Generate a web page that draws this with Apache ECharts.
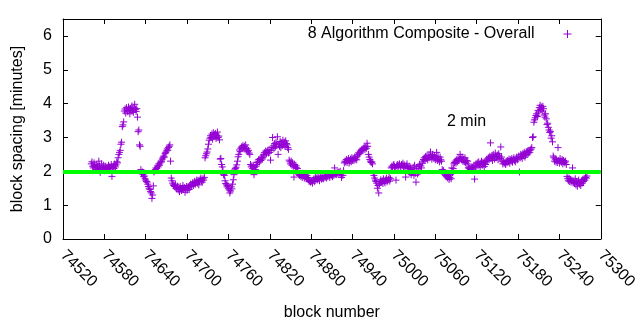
<!DOCTYPE html>
<html>
<head>
<meta charset="utf-8">
<script src="https://cdn.jsdelivr.net/npm/echarts@6/dist/echarts.min.js"></script>
<style>html,body{margin:0;padding:0;background:#fff}#c{width:640px;height:330px}</style>
</head>
<body>
<div id="c"></div>
<script>
// first block of the series; one value per consecutive block
const firstBlock = 74561;
// block spacing [minutes]
const spacing1 = [
2.22,2.28,2.15,2.10,2.25,2.18,2.12,2.05,2.20,2.14,2.08,2.30,2.16,1.97,2.10,2.22,2.06,2.12,2.18,2.02,
2.10,2.15,2.06,2.12,2.03,2.18,2.09,2.14,2.07,2.20,1.85,2.11,2.16,2.08,2.22,2.13,2.19,2.28,2.25,2.40,
2.50,2.56,2.62,2.80,2.86,3.32,3.37,3.46,3.78,3.84,3.72,3.88,3.80,3.76,3.90,3.82,3.70,3.86,3.79,3.93,
3.81,3.74,3.88,3.98,3.83,3.77,3.85,3.60,3.17,3.22,2.78,2.74,2.05,1.94,1.98,1.90,1.84,1.86,1.78,1.74,
1.70,1.68,1.62,1.55,1.50,1.46,1.40,1.36,1.20,1.30,1.57,1.98,2.02,2.05,2.10,2.08,2.16,2.13,2.22,2.18,
2.25,2.30,2.28,2.36,2.40,2.45,2.42,2.52,2.56,2.60,2.66,2.62,2.70,2.74,2.78,2.30,1.80,1.72,1.65,1.60
];
const spacing2 = [
1.58,1.55,1.62,1.50,1.48,1.56,1.45,1.52,1.40,1.55,1.47,1.43,1.50,1.58,1.46,1.52,1.38,1.49,1.55,1.44,
1.50,1.54,1.46,1.58,1.62,1.55,1.60,1.66,1.58,1.63,1.70,1.62,1.68,1.74,1.65,1.72,1.60,1.70,1.76,1.80,
1.72,1.68,1.78,1.74,1.82,2.40,2.46,2.52,2.57,2.66,2.80,2.92,2.98,3.05,3.00,3.10,2.95,3.14,3.02,3.08,
3.12,2.97,3.06,3.16,3.00,3.04,2.93,2.36,2.38,2.20,2.13,2.02,1.90,1.88,1.72,1.64,1.60,1.54,1.58,1.50,
1.45,1.36,1.42,1.54,1.48,1.62,1.75,1.90,2.04,2.08,2.12,2.19,2.30,2.43,2.50,2.63,2.58,2.68,2.72,2.70,
2.76,2.70,2.74,2.66,2.78,2.63,2.68,2.58,2.62,2.54,2.50,2.20,2.13,2.16,2.08,2.18,1.90,2.12,2.05,2.15
];
const spacing3 = [
2.20,2.26,2.30,2.35,2.28,2.38,2.32,2.40,2.36,2.42,2.50,2.55,2.48,2.60,2.52,2.58,2.62,2.54,2.64,2.56,
2.33,2.62,2.70,3.00,2.75,2.68,2.82,2.72,2.86,2.78,3.02,2.50,2.80,2.74,2.88,2.70,2.84,2.76,2.92,2.80,
2.86,2.74,2.90,2.82,2.78,2.70,2.65,2.33,2.28,2.22,2.30,2.18,2.25,2.15,1.83,2.20,2.12,2.16,2.10,2.08,
1.95,1.90,1.88,1.92,1.85,1.90,1.82,1.94,1.87,1.80,1.91,1.84,1.78,1.88,1.82,1.75,1.70,1.73,1.68,1.72,
1.70,1.65,1.74,1.78,1.70,1.82,1.76,1.80,1.75,1.84,1.78,1.72,1.82,1.86,1.77,1.80,1.84,1.78,1.88,1.82,
1.85,1.80,1.88,1.84,1.90,1.86,1.82,1.92,1.87,1.90,1.84,1.93,1.88,2.10,1.92,1.95,1.90,1.96,1.93,1.98
];
const spacing4 = [
1.95,2.00,1.92,1.82,1.94,1.88,2.02,2.25,2.30,2.28,2.35,2.26,2.32,2.38,2.24,2.30,2.36,2.28,2.40,2.33,
2.38,2.32,2.42,2.36,2.40,2.34,2.45,2.50,2.55,2.52,2.60,2.57,2.63,2.66,2.62,2.68,2.70,2.65,2.72,2.68,
2.83,2.74,2.50,2.42,2.35,2.30,2.26,2.28,2.22,1.94,1.88,1.80,1.74,1.70,1.65,1.50,1.58,1.36,1.62,1.70,
1.75,1.68,1.72,1.64,1.78,1.70,1.66,1.74,1.80,1.69,1.73,1.76,1.82,1.71,1.78,2.10,2.15,2.12,2.18,2.20,
2.14,2.10,1.74,2.16,2.20,2.12,2.18,2.22,2.15,2.12,2.20,2.17,2.24,2.14,2.19,2.10,1.83,2.16,2.22,2.12,
2.08,2.15,1.95,2.10,1.90,2.05,1.98,2.12,1.88,2.18,1.94,1.68,2.08,1.92,2.14,1.96,2.20,2.02,2.16,2.10
];
const spacing5 = [
2.24,2.30,2.35,2.40,2.32,2.44,2.38,2.46,2.34,2.42,2.48,2.40,2.57,2.44,2.36,2.50,2.42,2.38,2.46,2.34,
2.40,2.56,2.32,2.44,2.36,2.28,2.42,2.34,2.30,2.05,1.98,2.02,1.92,1.96,1.88,1.84,1.94,1.80,1.86,1.76,
1.82,1.90,1.78,2.10,1.96,2.08,2.22,2.26,2.30,2.24,2.34,2.28,2.38,2.32,2.36,2.50,2.40,2.34,2.42,2.30,
2.36,2.28,2.40,2.26,2.32,2.22,2.30,2.12,2.08,2.10,2.05,2.13,2.09,2.11,2.06,2.18,1.77,2.14,2.22,2.18,
2.25,2.16,2.28,2.20,2.12,2.24,2.30,2.18,2.26,2.22,2.14,2.28,2.20,2.32,2.36,2.30,2.40,2.34,2.44,2.84,
2.38,2.46,2.32,2.50,2.42,2.36,2.54,2.44,2.40,2.48,2.34,2.52,2.45,2.38,2.72,2.42,2.30,2.22,2.28,2.24
];
const spacing6 = [
2.26,2.20,2.30,2.25,2.32,2.28,2.36,2.24,2.34,2.30,2.38,2.27,2.35,2.40,2.32,2.28,2.36,2.42,2.34,2.38,
2.45,1.98,2.40,2.50,2.44,2.38,2.52,2.46,2.56,2.42,2.48,2.58,2.50,2.60,2.54,2.62,2.56,2.63,2.66,2.70,
3.00,3.02,3.45,3.52,3.58,3.65,3.70,3.62,3.80,3.75,3.88,3.95,3.82,3.90,3.78,3.92,3.85,3.66,3.60,3.70,
3.55,3.38,3.42,3.30,3.22,3.15,3.18,2.98,3.05,2.87,2.45,2.40,2.30,2.36,2.28,2.34,2.26,2.70,2.32,2.24,
2.38,2.30,2.27,2.35,2.22,2.32,2.28,2.25,2.30,2.20,1.85,1.78,1.72,1.80,1.70,1.76,1.68,1.74,2.10,1.66,
1.72,1.64,1.78,1.60,1.70,1.56,1.68,1.74,1.62,1.66,1.58,1.72,1.65,1.76,1.70,1.78,1.74,1.82,1.80,1.86
];
const seriesName = '8 Algorithm Composite - Overall';
const referenceValue = 2;           // the "2 min" target line
const referenceLabel = '2 min';
const referenceLabelAt = [75077, 3.46];
const xMin = 74520, xMax = 75300, xStep = 60;
const yMin = 0, yMax = 6.5, yStep = 1;

const spacing = [].concat(spacing1, spacing2, spacing3, spacing4, spacing5, spacing6);
const points = spacing.map((v, i) => [firstBlock + i, v]);

const FONT = 'Liberation Sans';
const purple = '#9400d3';
const crossPath = 'path://M0,-1L0,1M-1,0L1,0';
const axisCommon = {
  axisLine: {show: true, onZero: false, lineStyle: {color: '#000', width: 1}},
  axisTick: {show: true, inside: true, length: 5, lineStyle: {color: '#000', width: 1}},
  splitLine: {show: false}
};
const chart = echarts.init(document.getElementById('c'), null, {renderer: 'canvas'});
chart.setOption({
  animation: false,
  backgroundColor: '#fff',
  textStyle: {fontFamily: FONT},
  grid: {left: 63, right: 28, top: 19, bottom: 91, containLabel: false},
  legend: {
    show: true, right: 63, top: 21, align: 'right',
    itemWidth: 8, itemHeight: 8,
    data: [{name: seriesName, icon: crossPath,
            itemStyle: {color: 'rgba(0,0,0,0)', borderColor: purple, borderWidth: 1}}],
    textStyle: {fontFamily: FONT, fontSize: 16, color: '#000', padding: [0, 24, 0, 0]}
  },
  xAxis: [
    Object.assign({}, axisCommon, {
      type: 'value', position: 'bottom', min: xMin, max: xMax, interval: xStep,
      name: 'block number', nameLocation: 'middle', nameGap: 66,
      nameTextStyle: {fontFamily: FONT, fontSize: 16, color: '#000'},
      axisLabel: {rotate: -45, margin: 14, fontFamily: FONT, fontSize: 16, color: '#000',
                  formatter: v => String(v)}
    }),
    Object.assign({}, axisCommon, {
      type: 'value', position: 'top', min: xMin, max: xMax, interval: xStep,
      axisLabel: {show: false}
    })
  ],
  yAxis: [
    Object.assign({}, axisCommon, {
      type: 'value', position: 'left', min: yMin, max: yMax, interval: yStep,
      name: 'block spacing [minutes]', nameLocation: 'middle', nameGap: 37, nameRotate: 90,
      nameTextStyle: {fontFamily: FONT, fontSize: 16, color: '#000'},
      axisLabel: {showMaxLabel: false, margin: 11, fontFamily: FONT, fontSize: 16, color: '#000'}
    }),
    Object.assign({}, axisCommon, {
      type: 'value', position: 'right', min: yMin, max: yMax, interval: yStep,
      axisLabel: {show: false}
    })
  ],
  series: [
    {
      name: seriesName, type: 'scatter', data: points,
      symbol: crossPath, symbolSize: 7, z: 2,
      itemStyle: {color: 'rgba(0,0,0,0)', borderColor: purple, borderWidth: 1, opacity: 1},
      emphasis: {disabled: true}
    },
    {
      name: 'ref', type: 'line', data: [], z: 5, silent: true,
      markLine: {
        silent: true, symbol: ['none', 'none'], animation: false,
        label: {show: false},
        lineStyle: {color: '#00ff00', width: 4, type: 'solid'},
        data: [{yAxis: referenceValue}]
      },
      markPoint: {
        silent: true, symbol: 'circle', symbolSize: 0, animation: false,
        data: [{coord: referenceLabelAt}],
        label: {show: true, position: 'inside', align: 'left', verticalAlign: 'middle',
                formatter: referenceLabel, fontFamily: FONT, fontSize: 16, color: '#000'}
      }
    }
  ]
});
</script>
</body>
</html>
